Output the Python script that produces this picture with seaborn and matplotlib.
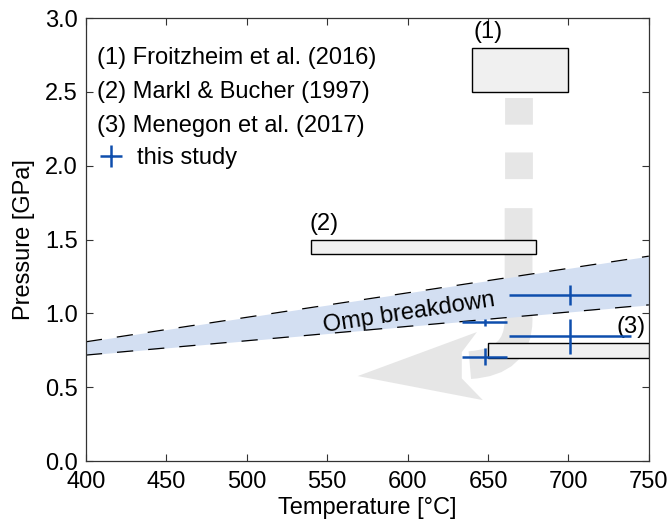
import matplotlib
matplotlib.use("Agg")
import matplotlib.pyplot as plt
import seaborn as sns
import numpy as np
import pandas as pd
from matplotlib.patches import Rectangle, Polygon, PathPatch
from matplotlib.path import Path
from matplotlib.lines import Line2D

# literature P-T boxes: (Tmin, Tmax, Pmin, Pmax)
box_labels = ["(1)", "(2)", "(3)"]
box_tmin = [640, 540, 650]
box_tmax = [700, 680, 750]
box_pmin = [2.5, 1.4, 0.7]
box_pmax = [2.8, 1.5, 0.8]
box_label_pos = [(650, 2.905), (548, 1.605), (739, 0.905)]

refs = ["(1) Froitzheim et al. (2016)",
        "(2) Markl & Bucher (1997)",
        "(3) Menegon et al. (2017)"]

# this study
study_T = [701, 648, 701, 648]
study_Terr = [38, 14, 38, 14]
study_P = [1.124, 0.939, 0.846, 0.706]
study_Perr = [0.067, 0.026, 0.118, 0.058]

# Omp breakdown band
band_T = [400, 750]
band_upper = [0.808, 1.388]
band_lower = [0.718, 1.058]

# exhumation path (gray arrow)
path_dash_T = [669, 669]
path_dash_P = [2.457, 1.90]
path_T = [669, 669, 669, 638.7]
path_P = [1.713, 0.955, 0.670, 0.650]
head_T = [569, 643.1, 633.7, 633.7, 646.8]
head_P = [0.576, 0.874, 0.738, 0.560, 0.413]

blue = "#0e4ead"
gray = "#e6e6e6"
fs = 17

sns.set_theme(style="ticks")
plt.rcParams["font.family"] = ["Liberation Sans", "DejaVu Sans"]
plt.rcParams.update({
    "text.color": "black", "axes.labelcolor": "black",
    "xtick.direction": "in", "ytick.direction": "in",
    "xtick.top": True, "ytick.right": True,
    "xtick.major.size": 5, "ytick.major.size": 5,
    "xtick.major.width": 0.8, "ytick.major.width": 0.8,
    "axes.linewidth": 0.9, "axes.edgecolor": "#333333",
    "xtick.color": "#333333", "ytick.color": "#333333",
    "xtick.labelcolor": "black", "ytick.labelcolor": "black",
})

fig = plt.figure(figsize=(6.71, 5.24), dpi=100)
ax = fig.add_axes([0.128, 0.120, 0.839, 0.8455])

# arrow
ax.plot(path_dash_T, path_dash_P, color=gray, lw=20, solid_capstyle="butt",
        dash_capstyle="butt", linestyle=(0, (0.96, 1.0)), zorder=1)
codes = [Path.MOVETO, Path.LINETO, Path.CURVE3, Path.CURVE3]
shaft = Path(np.column_stack([path_T, path_P]), codes)
ax.add_patch(PathPatch(shaft, fill=False, edgecolor=gray, lw=20,
                       capstyle="butt", zorder=1))
ax.add_patch(Polygon(np.column_stack([head_T, head_P]), closed=True,
                     facecolor=gray, edgecolor="none", zorder=1))

# boxes
for lab, t0, t1, p0, p1, pos in zip(box_labels, box_tmin, box_tmax,
                                    box_pmin, box_pmax, box_label_pos):
    ax.add_patch(Rectangle((t0, p0), t1 - t0, p1 - p0, facecolor="#f0f0f0",
                           edgecolor="black", lw=1.0, zorder=3))
    ax.text(pos[0], pos[1], lab, ha="center", va="center", fontsize=fs, zorder=5)

# band
ax.fill_between(band_T, band_lower, band_upper, color="#d3dff2", lw=0, zorder=2)
ax.plot(band_T, band_upper, color="black", lw=0.9, ls=(0, (13, 12)), zorder=2.5)
ax.plot(band_T, band_lower, color="black", lw=0.9, ls=(0, (13, 12)), zorder=2.5)
ax.text(601, 1.0, "Omp breakdown", rotation=8.7, rotation_mode="anchor",
        ha="center", va="center", fontsize=fs, zorder=5)

# this study
df = pd.DataFrame({"T": study_T, "P": study_P, "Terr": study_Terr, "Perr": study_Perr})
ax.errorbar(df["T"], df["P"], xerr=df["Terr"], yerr=df["Perr"], fmt="none",
            ecolor=blue, elinewidth=1.8, capsize=0, zorder=6)

ax.set_xlim(400, 750)
ax.set_ylim(0, 3.0)
ax.set_xticks(np.arange(400, 751, 50))
ax.set_yticks(np.arange(0, 3.01, 0.5))
ax.set_yticklabels([f"{v:.1f}" for v in np.arange(0, 3.01, 0.5)])
ax.tick_params(axis="x", labelsize=fs, pad=7)
ax.tick_params(axis="y", labelsize=fs, pad=6)
ax.set_xlabel("Temperature [°C]", fontsize=fs, labelpad=3)
ax.set_ylabel("Pressure [GPa]", fontsize=fs, labelpad=7)

for i, r in enumerate(refs):
    ax.text(0.0195, [0.910, 0.833, 0.756][i], r, transform=ax.transAxes,
            ha="left", va="center", fontsize=fs)

h = Line2D([], [], ls="none", marker="+", ms=16, mew=1.8, color=blue)
ax.legend(handles=[h], labels=["this study"], loc="center left",
          bbox_to_anchor=(0.0195, 0.684), frameon=False, fontsize=fs,
          borderpad=0, borderaxespad=0, handlelength=1.2, handletextpad=0.5)

fig.savefig("out.png", dpi=100)
